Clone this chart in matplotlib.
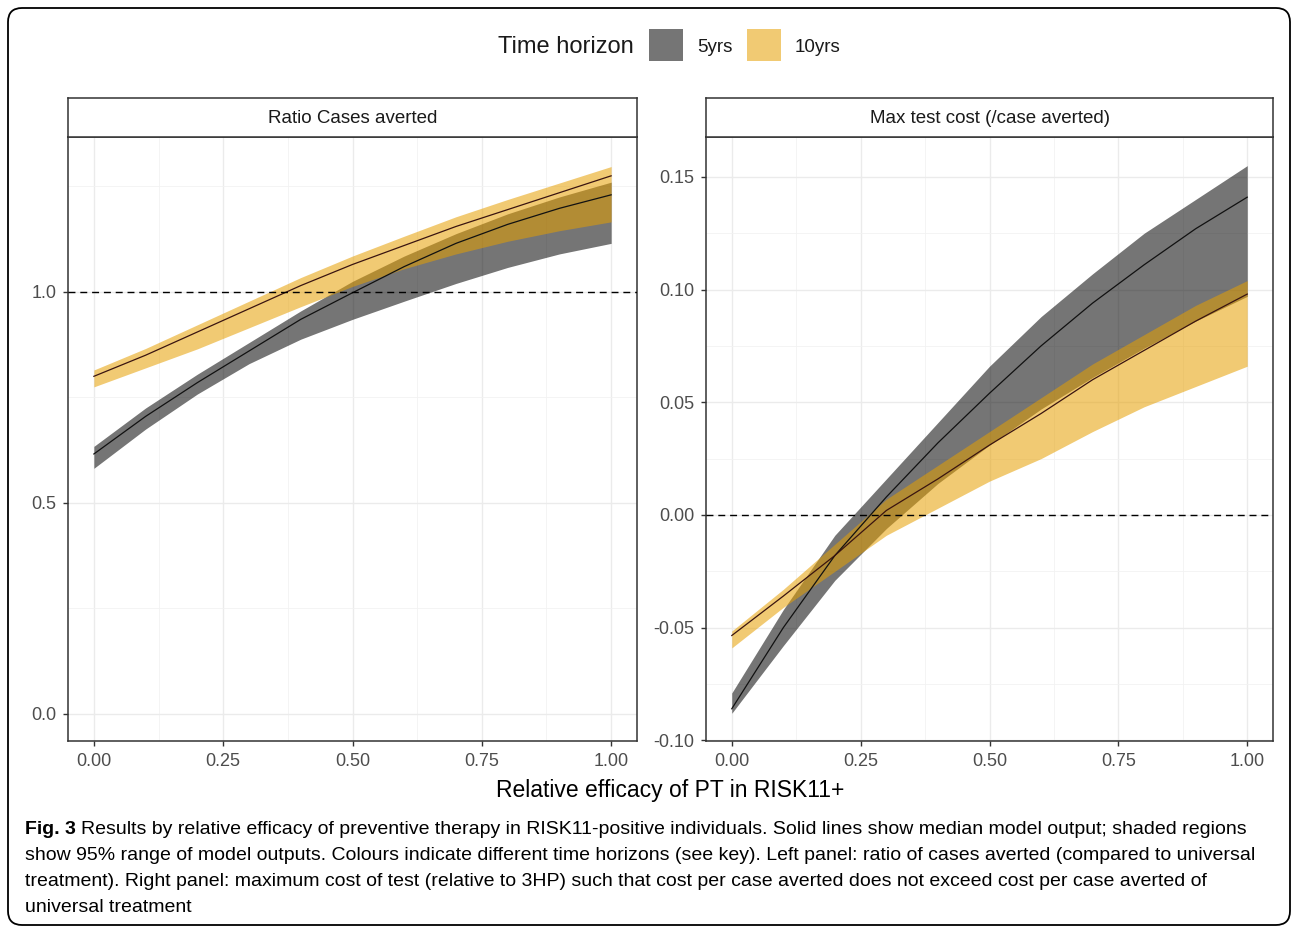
import matplotlib
matplotlib.use("Agg")
import matplotlib.pyplot as plt
from matplotlib.patches import FancyBboxPatch, Rectangle

# relative efficacy of PT (x axis)
efficacy = [0.0, 0.1, 0.2, 0.3, 0.4, 0.5, 0.6, 0.7, 0.8, 0.9, 1.0]

# left panel: ratio of cases averted
ratio_5_med = [0.616, 0.705, 0.785, 0.860, 0.935, 0.998, 1.060, 1.115, 1.160, 1.198, 1.230]
ratio_5_lo = [0.582, 0.675, 0.758, 0.830, 0.888, 0.935, 0.978, 1.020, 1.058, 1.090, 1.115]
ratio_5_hi = [0.634, 0.725, 0.805, 0.880, 0.955, 1.025, 1.085, 1.138, 1.185, 1.225, 1.260]
ratio_10_med = [0.800, 0.850, 0.905, 0.960, 1.015, 1.065, 1.110, 1.155, 1.195, 1.235, 1.275]
ratio_10_lo = [0.775, 0.820, 0.865, 0.915, 0.965, 1.013, 1.055, 1.090, 1.120, 1.145, 1.166]
ratio_10_hi = [0.815, 0.866, 0.922, 0.978, 1.034, 1.085, 1.132, 1.178, 1.219, 1.258, 1.297]

# right panel: max test cost per case averted
cost_5_med = [-0.086, -0.050, -0.018, 0.008, 0.032, 0.054, 0.075, 0.094, 0.111, 0.127, 0.141]
cost_5_lo = [-0.088, -0.058, -0.029, -0.006, 0.014, 0.031, 0.047, 0.061, 0.074, 0.086, 0.097]
cost_5_hi = [-0.079, -0.042, -0.009, 0.016, 0.041, 0.066, 0.088, 0.107, 0.125, 0.140, 0.155]
cost_10_med = [-0.0535, -0.036, -0.018, 0.002, 0.016, 0.031, 0.045, 0.060, 0.073, 0.086, 0.098]
cost_10_lo = [-0.059, -0.041, -0.025, -0.009, 0.003, 0.015, 0.025, 0.037, 0.048, 0.057, 0.066]
cost_10_hi = [-0.0515, -0.033, -0.013, 0.007, 0.022, 0.037, 0.052, 0.067, 0.080, 0.093, 0.104]

horizons = ["5yrs", "10yrs"]
panel_titles = ["Ratio Cases averted", "Max test cost (/case averted)"]
x_ticks = [0.0, 0.25, 0.5, 0.75, 1.0]
left_yticks = [0.0, 0.5, 1.0]
right_yticks = [-0.10, -0.05, 0.0, 0.05, 0.10, 0.15]

caption_lines = [
    "Results by relative efficacy of preventive therapy in RISK11-positive individuals. Solid lines show median model output; shaded regions",
    "show 95% range of model outputs. Colours indicate different time horizons (see key). Left panel: ratio of cases averted (compared to universal",
    "treatment). Right panel: maximum cost of test (relative to 3HP) such that cost per case averted does not exceed cost per case averted of",
    "universal treatment",
]

FILL = {"5yrs": ("black", 0.54), "10yrs": ("#E69F00", 0.55)}
LINE = {"5yrs": "#111111", "10yrs": "#3a1410"}

plt.rcParams["font.family"] = ["Liberation Sans", "DejaVu Sans"]

W, H = 1293, 927
fig = plt.figure(figsize=(W / 100, H / 100), dpi=100)


def px_axes(x0, y0, x1, y1):
    # axes placed by pixel box (top-left origin)
    return fig.add_axes([x0 / W, 1 - y1 / H, (x1 - x0) / W, (y1 - y0) / H])


def style_panel(ax, yticks, ylim, hline, fmt):
    ax.set_xticks(x_ticks)
    ax.set_xticklabels(["%.2f" % v for v in x_ticks])
    ax.set_yticks(yticks)
    ax.set_yticklabels([fmt % v for v in yticks])
    minor_x = [x + 0.125 for x in x_ticks[:-1]]
    step = yticks[1] - yticks[0]
    minor_y = [y + step / 2 for y in yticks]
    ax.set_xticks(minor_x, minor=True)
    ax.set_yticks(minor_y, minor=True)
    # limits after the ticks, set_ticks can widen the view
    ax.set_xlim(-0.05, 1.05)
    ax.set_ylim(*ylim)
    ax.grid(which="major", color="#ebebeb", lw=1.0, zorder=0)
    ax.grid(which="minor", color="#f2f2f2", lw=0.6, zorder=0)
    ax.tick_params(which="minor", length=0)
    ax.tick_params(which="major", length=3.5, width=1.0, color="#333333",
                   labelsize=13, labelcolor="#4d4d4d", pad=5)
    for s in ax.spines.values():
        s.set_color("#333333")
        s.set_linewidth(1.1)
    ax.axhline(hline, color="black", lw=1.0, ls=(0, (5, 3.5)), zorder=5)
    ax.set_axisbelow(True)


def draw_series(ax, lo, hi, med, h):
    c, a = FILL[h]
    ax.fill_between(efficacy, lo, hi, color=c, alpha=a, lw=0, zorder=2)
    ax.plot(efficacy, med, color=LINE[h], lw=0.9, zorder=3)


# left panel
axL = px_axes(68, 137, 637, 741)
draw_series(axL, ratio_5_lo, ratio_5_hi, ratio_5_med, "5yrs")
draw_series(axL, ratio_10_lo, ratio_10_hi, ratio_10_med, "10yrs")
style_panel(axL, left_yticks, (-0.064, 1.367), 1.0, "%.1f")

# right panel
axR = px_axes(706, 137, 1273, 741)
draw_series(axR, cost_5_lo, cost_5_hi, cost_5_med, "5yrs")
draw_series(axR, cost_10_lo, cost_10_hi, cost_10_med, "10yrs")
style_panel(axR, right_yticks, (-0.1003, 0.1677), 0.0, "%.2f")

# facet strips
for (x0, x1), title in zip([(68, 637), (706, 1273)], panel_titles):
    st = px_axes(x0, 98, x1, 137)
    st.set_xticks([])
    st.set_yticks([])
    for s in st.spines.values():
        s.set_color("#333333")
        s.set_linewidth(1.1)
    st.text(0.5, 0.48, title, ha="center", va="center", fontsize=13.5,
            color="#1a1a1a", transform=st.transAxes)

# x label shared
fig.text(670 / W, 1 - 790 / H, "Relative efficacy of PT in RISK11+", ha="center",
         va="center", fontsize=16.5, color="black")

# legend on top
leg = px_axes(0, 0, W, 90)
leg.set_xlim(0, W)
leg.set_ylim(90, 0)
leg.axis("off")
leg.text(498, 47, "Time horizon", ha="left", va="center", fontsize=17, color="#1a1a1a")
for h, kx in zip(horizons, [649, 747]):
    c, a = FILL[h]
    leg.add_patch(Rectangle((kx, 29), 34, 32, color=c, alpha=a, lw=0))
    leg.text(kx + 48, 47, h, ha="left", va="center", fontsize=13.5, color="#1a1a1a")

# caption
cap_size = 14.0
cap_y = [829, 856, 882, 908]
for i, (line, yy) in enumerate(zip(caption_lines, cap_y)):
    if i == 0:
        t = fig.text(25 / W, 1 - yy / H, "Fig. 3", ha="left", va="center",
                     fontsize=cap_size, fontweight="bold")
        fig.canvas.draw()
        bb = t.get_window_extent()
        fig.text((bb.x1 + 5) / W, 1 - yy / H, line, ha="left", va="center",
                 fontsize=cap_size)
    else:
        fig.text(25 / W, 1 - yy / H, line, ha="left", va="center", fontsize=cap_size)

# rounded frame around the whole figure
frame = FancyBboxPatch((0.08, 0.02), 12.82, 9.17,
                       boxstyle="round,pad=0,rounding_size=0.14",
                       transform=fig.dpi_scale_trans, fill=False,
                       ec="black", lw=1.3)
fig.add_artist(frame)

fig.savefig("out.png", dpi=100)
